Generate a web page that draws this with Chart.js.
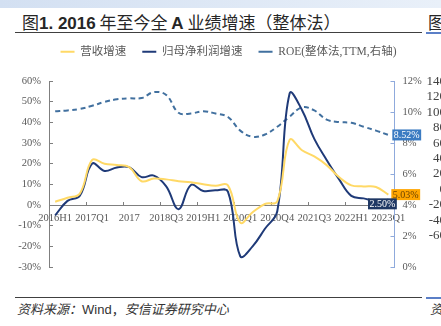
<!DOCTYPE html>
<html>
<head>
<meta charset="utf-8">
<script src="https://cdn.jsdelivr.net/npm/chart.js@4.4.1/dist/chart.umd.min.js"></script>
<style>
html, body { margin: 0; padding: 0; background: #fff; }
body { width: 441px; height: 326px; position: relative; overflow: hidden; font-family: "Noto Sans CJK SC", sans-serif; }
.band { position: absolute; left: 0; top: 0; width: 441px; height: 8px; background: linear-gradient(to right, #d3e0f2, #e9f0f9); }
.title { position: absolute; left: 22px; top: 11px; font-size: 17px; line-height: 22px; color: #262626; white-space: nowrap; }
.title b { font-family: "Liberation Sans", Arial, sans-serif; font-weight: bold; }
.rule { position: absolute; left: 15px; width: 407px; height: 1px; background: #404040; }
.rule2 { position: absolute; left: 426px; width: 15px; height: 2px; background: #5b7fc7; }
#wrap { position: absolute; left: 0; top: 30px; width: 441px; height: 258px; }
.src { position: absolute; left: 17px; top: 300px; font-size: 13px; line-height: 18px; color: #333; white-space: nowrap; }
.src i { font-style: italic; }
.src span { font-family: "Liberation Sans", Arial, sans-serif; }
.nb { position: absolute; left: 406px; width: 40px; text-align: right; font: 13px "Liberation Serif", serif; line-height: 14px; color: #404040; }
</style>
</head>
<body>
<div class="band"></div>
<div class="title">图<b>1. 2016</b> 年至今全 <b>A</b> 业绩增速（整体法）</div>
<div class="title" style="left:428px">图</div>
<div class="rule" style="top:32px"></div>
<div class="rule2" style="top:32px"></div>
<div id="wrap"><canvas id="c"></canvas></div>
<div id="nbTicks"></div>
<div class="rule" style="top:297px"></div>
<div class="rule2" style="top:297px"></div>
<div class="src"><i>资料来源：</i><span>Wind</span>，<i>安信证券研究中心</i></div>
<div class="src" style="left:430px"><i>资</i></div>
<script>
// 季度（2016H1 - 2023Q1）
const quarters = ['2016H1', '2016Q3', '2016', '2017Q1', '2017H1', '2017Q3', '2017',
  '2018Q1', '2018H1', '2018Q3', '2018', '2019Q1', '2019H1', '2019Q3', '2019',
  '2020Q1', '2020H1', '2020Q3', '2020Q4', '2021Q1', '2021H1', '2021Q3', '2021',
  '2022Q1', '2022H1', '2022Q3', '2022', '2023Q1'];

// 营收增速 (%)
const revenueGrowth = [1.6, 3.5, 5.5, 21.8, 20.0, 19.4, 18.3, 11.5, 12.8, 12.4, 11.5, 11.0, 10.0, 9.3,
  9.5, -8.5, -3.5, 0.5, 1.8, 31.5, 26.5, 23.5, 19.3, 13.5, 9.5, 9.0, 8.7, 5.03];

// 归母净利润增速 (%)
const profitGrowth = [-5.0, 2.0, 4.5, 20.0, 16.5, 18.2, 18.3, 13.5, 14.2, 9.0, -2.0, 9.7, 6.8, 7.1,
  6.5, -24.8, -20.0, -11.5, -3.0, 54.0, 46.0, 32.0, 21.8, 12.5, 4.4, 3.2, 2.0, 2.50];

// ROE 整体法 TTM (%, 右轴)
const roe = [10.05, 10.1, 10.2, 10.4, 10.65, 10.82, 10.88, 10.9, 11.28, 11.1, 9.95, 9.9, 10.05, 9.9,
  9.68, 8.8, 8.4, 8.55, 9.05, 9.7, 10.3, 10.1, 9.51, 9.35, 9.3, 9.05, 8.8, 8.52];

// 右侧相邻图的刻度（截图残留）
const neighbourTicks = [140, 120, 100, 80, 60, 40, 20, 0, -20, -40, -60];

const nb = document.getElementById('nbTicks');
neighbourTicks.forEach((t, i) => {
  const d = document.createElement('div');
  d.className = 'nb';
  d.style.top = (74 + i * 15.4) + 'px';
  d.textContent = t;
  nb.appendChild(d);
});

const tickFont = { family: '"Liberation Serif", serif', size: 10.5 };

// 末值标签样式
const endBoxes = [
  { bg: '#ffa500', fg: '#6b4300', side: 'right', dx: 3, dy: 0 },
  { bg: '#1f3864', fg: '#ffffff', side: 'left', dx: 8.5, dy: 4 },
  { bg: '#3b7bc2', fg: '#ffffff', side: 'right', dx: 4, dy: 0 }
];

const endLabels = {
  id: 'endLabels',
  afterDatasetsDraw(chart) {
    const ctx = chart.ctx;
    ctx.save();
    ctx.font = '10px "Liberation Serif", serif';
    ctx.textBaseline = 'middle';
    chart.data.datasets.forEach((ds, i) => {
      const meta = chart.getDatasetMeta(i);
      const pt = meta.data[meta.data.length - 1];
      const st = endBoxes[i];
      const txt = ds.data[ds.data.length - 1].toFixed(2) + '%';
      const w = ctx.measureText(txt).width + 3;
      const h = 11;
      const left = st.side === 'right' ? pt.x + st.dx : pt.x + st.dx - w;
      const top = pt.y + st.dy - h / 2;
      ctx.fillStyle = st.bg;
      ctx.fillRect(left, top, w, h);
      ctx.fillStyle = st.fg;
      ctx.fillText(txt, left + 1.5, top + h / 2 + 0.5);
    });
    ctx.restore();
  }
};

new Chart(document.getElementById('c'), {
  type: 'line',
  data: {
    labels: quarters,
    datasets: [
      {
        label: '营收增速',
        data: revenueGrowth,
        borderColor: '#ffd966',
        borderWidth: 2,
        yAxisID: 'y'
      },
      {
        label: '归母净利润增速',
        data: profitGrowth,
        borderColor: '#1f3a78',
        borderWidth: 2,
        yAxisID: 'y'
      },
      {
        label: 'ROE(整体法,TTM,右轴)',
        data: roe,
        borderColor: '#41709f',
        borderWidth: 2,
        borderDash: [5, 3.5],
        yAxisID: 'y1'
      }
    ]
  },
  options: {
    responsive: true,
    maintainAspectRatio: false,
    animation: false,
    layout: { padding: { left: 16, right: 0, top: 0, bottom: 21 } },
    elements: {
      point: { radius: 0 },
      line: { tension: 0.4, fill: false }
    },
    scales: {
      x: {
        type: 'category',
        position: { y: 0 },
        offset: true,
        grid: {
          offset: true,
          drawOnChartArea: false,
          tickLength: -4,
          color: c => (c.index % 3 === 0 ? '#7f7f7f' : 'rgba(0,0,0,0)')
        },
        border: { color: '#7f7f7f', width: 1 },
        ticks: {
          autoSkip: false,
          maxRotation: 0,
          minRotation: 0,
          padding: 10.5,
          color: '#595959',
          font: tickFont,
          callback: function (v, i) { return i % 3 === 0 ? quarters[i] : ''; }
        }
      },
      y: {
        position: 'left',
        min: -30,
        max: 60,
        afterFit: s => { s.width = 33; },
        grid: { drawOnChartArea: false, tickLength: -4, color: '#7f7f7f' },
        border: { color: '#7f7f7f', width: 1 },
        ticks: {
          stepSize: 10,
          padding: 12,
          color: '#595959',
          font: tickFont,
          callback: v => v + '%'
        }
      },
      y1: {
        position: 'right',
        min: 0,
        max: 12,
        afterFit: s => { s.width = 46.5; },
        grid: { drawOnChartArea: false, tickLength: -4, color: '#8faadc' },
        border: { color: '#8faadc', width: 1 },
        ticks: {
          stepSize: 2,
          padding: 12,
          color: '#595959',
          font: tickFont,
          callback: v => v + '%'
        }
      }
    },
    plugins: {
      legend: {
        position: 'top',
        labels: {
          usePointStyle: true,
          pointStyle: 'line',
          pointStyleWidth: 14,
          boxHeight: 2,
          padding: 16,
          color: '#595959',
          font: { family: '"Liberation Serif", "Noto Sans CJK SC", serif', size: 11.5 }
        }
      },
      subtitle: {
        display: true,
        text: ' ',
        weight: 500,
        font: { size: 1 },
        padding: { top: 0, bottom: 12.3 }
      },
      tooltip: { enabled: false }
    }
  },
  plugins: [endLabels]
});
</script>
</body>
</html>
